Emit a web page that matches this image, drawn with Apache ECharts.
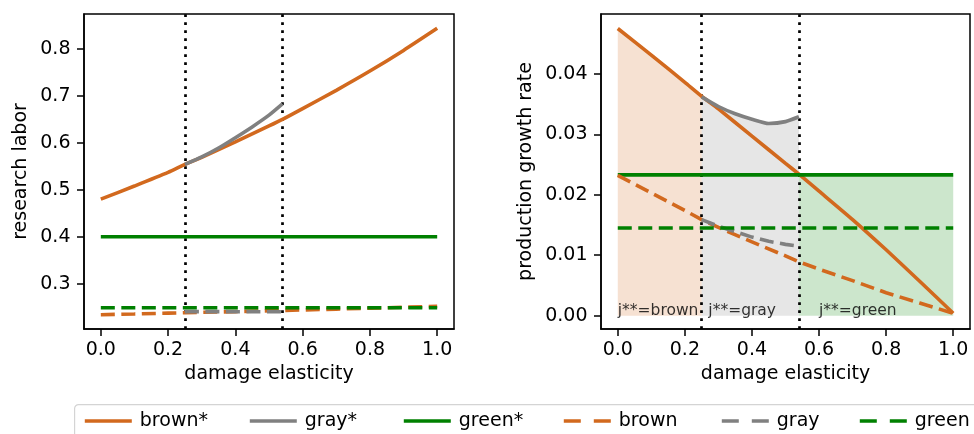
<!DOCTYPE html>
<html>
<head>
<meta charset="utf-8">
<script src="https://cdn.jsdelivr.net/npm/echarts@6/dist/echarts.min.js"></script>
<style>
html,body{margin:0;padding:0;background:#fff;}
#wrap{position:relative;width:974px;height:434px;background:#fff;overflow:hidden;}
.layer{position:absolute;left:0;top:0;width:974px;height:434px;}
</style>
</head>
<body>
<div id="wrap">
  <div id="legendLayer" class="layer"></div>
  <div id="leftPanel" class="layer"></div>
  <div id="rightPanel" class="layer"></div>
</div>
<script>
// ---------- data ----------
const xTicks = [0, 0.2, 0.4, 0.6, 0.8, 1.0];
const laborTicks = [0.3, 0.4, 0.5, 0.6, 0.7, 0.8];
const growthTicks = [0, 0.01, 0.02, 0.03, 0.04];
const thresholds = [0.25, 0.54];

const elasticity = [0, 0.1, 0.2, 0.25, 0.3, 0.4, 0.5, 0.54, 0.6, 0.7, 0.8, 0.9, 1.0];
const grayRange = [0.25, 0.3, 0.35, 0.4, 0.45, 0.5, 0.54];
const flatRange = [0, 1.0];
const greenRegion = [0.54, 1.0];

// left panel: research labor
const laborBrownStar = [0.480, 0.508, 0.537, 0.554, 0.569, 0.602, 0.636, 0.650, 0.673, 0.712, 0.753, 0.797, 0.844];
const laborGrayStar = [0.554, 0.570, 0.589, 0.611, 0.634, 0.659, 0.683];
const laborGreenStar = [0.400, 0.400];
const laborBrown = [0.2339, 0.2355, 0.2372, 0.2380, 0.2389, 0.2405, 0.2422, 0.2430, 0.2440, 0.2458, 0.2477, 0.2497, 0.2518];
const laborGray = [0.2405, 0.2405, 0.2404, 0.2403, 0.2402, 0.2401, 0.2400];
const laborGreen = [0.2488, 0.2488];

// right panel: production growth rate
const growthBrownStar = [0.0475, 0.0431, 0.0386, 0.0363, 0.0342, 0.0297, 0.0252, 0.0234, 0.0206, 0.0159, 0.0109, 0.0057, 0.0004];
const growthGrayStar = [0.0362, 0.0346, 0.0334, 0.0325, 0.0318, 0.0321, 0.0329];
const growthGreenStar = [0.0233, 0.0233];
const growthBrown = [0.0232, 0.0203, 0.0174, 0.0159, 0.0146, 0.0122, 0.0099, 0.0089, 0.0077, 0.0058, 0.0038, 0.0021, 0.0004];
const growthGray = [0.0159, 0.0148, 0.0139, 0.0130, 0.0123, 0.0118, 0.0115];
const growthGreen = [0.0145, 0.0145];

const regionLabels = ['j**=brown', 'j**=gray', 'j**=green'];
const regionLabelX = [0, 0.27, 0.6];

const legendNames = ['brown*', 'gray*', 'green*', 'brown', 'gray', 'green'];

// ---------- styling ----------
const FONT = 'DejaVu Sans';
const C = {brown: '#d2691e', gray: '#808080', green: '#008000'};
const legendColors = [C.brown, C.gray, C.green, C.brown, C.gray, C.green];
const LW = 3.6;
const DASH = [14, 6.5];
const zip = (xs, ys) => xs.map((x, i) => [x, ys[i]]);

const X_RANGE = [-0.05, 1.05];
const LABOR_RANGE = [0.2034, 0.8746];
const GROWTH_RANGE = [-0.0022, 0.0499];

function xAxisCfg() {
  return {
    type: 'value', gridIndex: 0, min: X_RANGE[0], max: X_RANGE[1],
    name: 'damage elasticity', nameLocation: 'middle', nameGap: 33,
    nameTextStyle: {fontFamily: FONT, fontSize: 19, color: '#000'},
    axisLine: {show: true, onZero: false, lineStyle: {color: '#000', width: 1.5}},
    splitLine: {show: false},
    axisTick: {show: true, length: 7, lineStyle: {color: '#000', width: 1.5}, customValues: xTicks},
    axisLabel: {fontFamily: FONT, fontSize: 19, color: '#000', margin: 12, customValues: xTicks,
      formatter: v => v.toFixed(1)}
  };
}
function yAxisCfg(range, ticks, dec, name, gap) {
  return {
    type: 'value', gridIndex: 0, min: range[0], max: range[1],
    name: name, nameLocation: 'middle', nameGap: gap, nameRotate: 90,
    nameTextStyle: {fontFamily: FONT, fontSize: 19, color: '#000'},
    axisLine: {show: true, onZero: false, lineStyle: {color: '#000', width: 1.5}},
    splitLine: {show: false},
    axisTick: {show: true, length: 7, lineStyle: {color: '#000', width: 1.5}, customValues: ticks},
    axisLabel: {fontFamily: FONT, fontSize: 19, color: '#000', margin: 13.5, customValues: ticks,
      formatter: v => v.toFixed(dec)}
  };
}
function lineSeries(name, data, color, dashed, z) {
  return {
    name: name, type: 'line', data: data,
    symbol: 'none', showSymbol: false, smooth: dashed ? false : 0.2, z: z,
    lineStyle: {color: color, width: LW, type: dashed ? DASH : 'solid', cap: 'butt'},
    itemStyle: {color: color}
  };
}
function fillSeries(data, rgba) {
  return {
    type: 'line', data: data, symbol: 'none', silent: true, z: 1, smooth: 0.2,
    lineStyle: {width: 0, color: rgba},
    areaStyle: {color: rgba, opacity: 1}
  };
}
function vlines() {
  return {
    type: 'line', data: [], symbol: 'none', z: 3,
    markLine: {
      silent: true, symbol: ['none', 'none'],
      label: {show: false},
      lineStyle: {color: '#000', width: 2.7, type: [2.7, 5.3], cap: 'butt'},
      data: thresholds.map(t => ({xAxis: t}))
    }
  };
}
function gridCfg(left, width) {
  return {left: left, top: 14, width: width, height: 315, show: true,
    borderColor: '#000', borderWidth: 1.5, backgroundColor: 'transparent'};
}

// ---------- left panel ----------
const leftOption = {
  animation: false,
  grid: [gridCfg(84, 370)],
  xAxis: [xAxisCfg()],
  yAxis: [yAxisCfg(LABOR_RANGE, laborTicks, 1, 'research labor', 53)],
  series: [
    vlines(),
    lineSeries('brown*', zip(elasticity, laborBrownStar), C.brown, false, 5),
    lineSeries('gray*', zip(grayRange, laborGrayStar), C.gray, false, 6),
    lineSeries('green*', zip(flatRange, laborGreenStar), C.green, false, 7),
    lineSeries('brown', zip(elasticity, laborBrown), C.brown, true, 8),
    lineSeries('gray', zip(grayRange, laborGray), C.gray, true, 9),
    lineSeries('green', zip(flatRange, laborGreen), C.green, true, 10)
  ]
};

// ---------- right panel ----------
const rightOption = {
  animation: false,
  grid: [gridCfg(601, 369)],
  xAxis: [xAxisCfg()],
  yAxis: [yAxisCfg(GROWTH_RANGE, growthTicks, 2, 'production growth rate', 65)],
  series: [
    fillSeries(zip(elasticity.slice(0, 4), growthBrownStar.slice(0, 4)), 'rgba(210,105,30,0.2)'),
    fillSeries(zip(grayRange, growthGrayStar), 'rgba(128,128,128,0.2)'),
    fillSeries(zip(greenRegion, growthGreenStar), 'rgba(0,128,0,0.2)'),
    vlines(),
    lineSeries('brown*', zip(elasticity, growthBrownStar), C.brown, false, 5),
    lineSeries('gray*', zip(grayRange, growthGrayStar), C.gray, false, 6),
    lineSeries('green*', zip(flatRange, growthGreenStar), C.green, false, 7),
    lineSeries('brown', zip(elasticity, growthBrown), C.brown, true, 8),
    lineSeries('gray', zip(grayRange, growthGray), C.gray, true, 9),
    lineSeries('green', zip(flatRange, growthGreen), C.green, true, 10),
    {
      type: 'scatter', symbolSize: 0, silent: true, z: 11,
      data: regionLabelX.map((x, i) => [x, 0, regionLabels[i]]),
      label: {show: true, position: 'right', distance: 0, offset: [0, -5],
        formatter: p => p.value[2], fontFamily: FONT, fontSize: 15.5, color: '#000'}
    }
  ]
};

// ---------- legend layer (hidden dummy series only feed the legend icons) ----------
const legendLeft = [83, 248, 402, 562, 720, 858];
const legendOption = {
  animation: false,
  grid: [{left: -100, top: -100, width: 10, height: 10, show: false}],
  xAxis: [{type: 'value', show: false}],
  yAxis: [{type: 'value', show: false}],
  legend: legendNames.map((n, i) => ({
    data: [n], left: legendLeft[i], top: 411.5, orient: 'horizontal', padding: 0,
    itemWidth: 47, itemHeight: 19, selectedMode: false, z: 10,
    itemStyle: {color: 'transparent', borderWidth: 0, opacity: 0},
    lineStyle: i >= 3 ? {type: [17, 13], width: 3.6} : {width: 3.6},
    textStyle: {fontFamily: FONT, fontSize: 19, color: '#000', padding: [0, 0, 0, 3]}
  })),
  graphic: [{
    type: 'rect', left: 74, top: 404, z: 0,
    shape: {width: 920, height: 60, r: 4},
    style: {fill: '#fff', stroke: '#d4d4d4', lineWidth: 1.2}
  }],
  series: legendNames.map((n, i) => lineSeries(n, [], legendColors[i], i >= 3, 2))
};

echarts.init(document.getElementById('legendLayer'), null, {renderer: 'canvas'}).setOption(legendOption);
echarts.init(document.getElementById('leftPanel'), null, {renderer: 'canvas'}).setOption(leftOption);
echarts.init(document.getElementById('rightPanel'), null, {renderer: 'canvas'}).setOption(rightOption);
</script>
</body>
</html>
